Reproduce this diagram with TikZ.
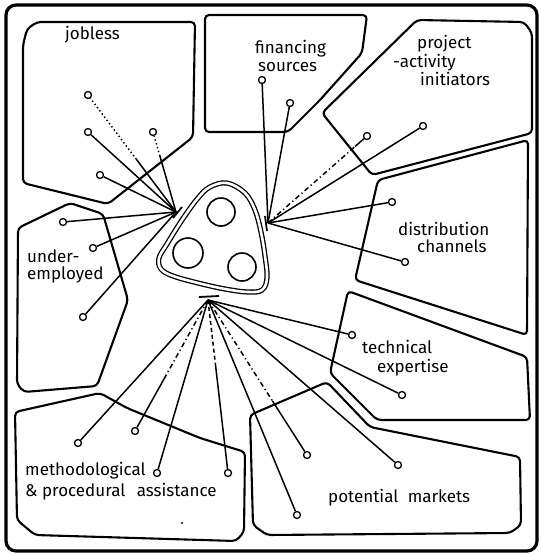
\documentclass[tikz,border=0pt]{standalone}
\usepackage{fontspec}
\setmainfont{Fira Sans}
\usetikzlibrary{calc}
\begin{document}
\begin{tikzpicture}[x=1pt,y=-1pt,
  region/.style={draw, line width=2.1pt, rounded corners=4pt, line join=round},
  link/.style={line width=1.5pt},
  endpt/.style={circle, draw, line width=1.3pt, inner sep=0pt, minimum size=7pt, fill=white},
  lbl/.style={anchor=base west, inner sep=0pt, font=\fontsize{17}{19}\selectfont},
  dashdot/.style={dash pattern=on 5pt off 3pt on 1.2pt off 3pt},
  dotline/.style={dash pattern=on 1.4pt off 2.6pt},
  dashline/.style={dash pattern=on 4pt off 3pt},
  bar/.style={line width=1.8pt},
]
\useasboundingbox (0,0) rectangle (541,555);
% outer frame
\draw[line width=3.2pt, rounded corners=10pt] (6,5) rectangle (537,551);
% regions
\draw[region] (23,183) -- (108,204) -- (193,137) -- (195,22) -- (37,22) -- (27,29) -- (23,45) -- cycle;
\draw[region] (205,15) -- (205,132) -- (288,132) -- (320,100) -- (362,53) -- (367,15) -- cycle;
\draw[region] (322,113) -- (417,20) -- (524,22) -- (532,33) -- (532,133) -- (372,175) -- cycle;
\draw[region] (378,180) -- (528,140) -- (527,335) -- (355,280) -- cycle;
\draw[region] (348,291) -- (527,357) -- (530,420) -- (377,420) -- (330,373) -- cycle;
\draw[region] (250,415) -- (327,382) -- (370,427) -- (520,457) -- (521,525) -- (510,533) -- (267,535) -- (253,525) -- cycle;
\draw[region] (15,412) -- (100,393) -- (127,408) -- (200,438) -- (245,452) -- (244,532) -- (236,541) -- (35,535) -- (17,520) -- cycle;
\draw[region] (18,228) -- (70,203) -- (103,214) -- (128,300) -- (97,386) -- (24,392) -- (17,384) -- cycle;
% labels
\node[lbl] (tjob) at (65,39) {jobless};
\node[lbl] (tfin1) at (255,53) {financing};
\node[lbl] (tfin2) at (258,71) {sources};
\node[lbl] (tpro1) at (417,48) {project};
\node[lbl] (tpro2) at (393,67) {-activity};
\node[lbl] (tpro3) at (420,85) {initiators};
\node[lbl] (tdis1) at (398,235) {distribution};
\node[lbl] (tdis2) at (417,252) {channels};
\node[lbl] (ttec1) at (362,353) {technical};
\node[lbl] (ttec2) at (377,372) {expertise};
\node[lbl] (tpot) at (328,502) {potential\hspace{5pt} markets};
\node[lbl] (tmet1) at (25,475) {methodological};
\node[lbl] (tmet2) at (25,496) {\& procedural\hspace{7pt} assistance};
\node[lbl] (tund1) at (27,262) {under-};
\node[lbl] (tund2) at (27,279) {employed};
% centre
\draw[line width=1.3pt, double, double distance=2.6pt] plot[smooth cycle, tension=0.6] coordinates {
 (227,183) (245,193) (255,210) (261,232) (265,256) (267,278) (262,290) (248,292) (225,289) (198,283) (173,276) (161,269) (159,258) (167,244) (182,220) (198,198) (210,187)};
\draw[line width=1.6pt] (221,212) circle[radius=14pt];
\draw[line width=1.6pt] (188,253) circle[radius=15pt];
\draw[line width=1.6pt] (242,267) circle[radius=14pt];
\draw[bar] (173,218) -- (182,207);
\draw[bar] (265,216) -- (267,231);
\draw[bar] (199,297) -- (219,296);
\coordinate (L) at (176,212);
\coordinate (R) at (268,223);
\coordinate (B) at (208,300);
% endpoints
\node[endpt] (a1) at (88,95) {};
\node[endpt] (a2) at (88,132) {};
\node[endpt] (a3) at (153,132) {};
\node[endpt] (a4) at (100,175) {};
\node[endpt] (a5) at (63,222) {};
\node[endpt] (a6) at (93,248) {};
\node[endpt] (a7) at (83,317) {};
\node[endpt] (b1) at (262,80) {};
\node[endpt] (b2) at (290,103) {};
\node[endpt] (b3) at (367,136) {};
\node[endpt] (b4) at (423,126) {};
\node[endpt] (b5) at (392,202) {};
\node[endpt] (b6) at (405,262) {};
\node[endpt] (c1) at (78,443) {};
\node[endpt] (c2) at (135,431) {};
\node[endpt] (c3) at (157,473) {};
\node[endpt] (c4) at (228,473) {};
\node[endpt] (c5) at (297,515) {};
\node[endpt] (c6) at (307,455) {};
\node[endpt] (c7) at (352,335) {};
\node[endpt] (c8) at (402,395) {};
\node[endpt] (c9) at (398,465) {};
% connectors
\coordinate (a1m) at ($(L)!0.45!(a1)$);
\coordinate (a3m) at ($(L)!0.7!(a3)$);
\draw[link] (L) -- (a1m);
\draw[link, dotline] (a1m) -- (a1);
\draw[link] (L) -- (a2);
\draw[link] (L) -- (a3m);
\draw[link, dotline] (a3m) -- (a3);
\draw[link] (L) -- (a4);
\draw[link] (L) -- (a5);
\draw[link] (L) -- (a6);
\draw[link] (L) -- (a7);
\coordinate (b3m) at ($(R)!0.88!(b3)$);
\draw[link] (R) -- (b1);
\draw[link] (R) -- (b2);
\draw[link, dashdot] (R) -- (b3m);
\draw[link] (b3m) -- (b3);
\draw[link] (R) -- (b4);
\draw[link] (R) -- (b5);
\draw[link] (R) -- (b6);
\coordinate (c2m) at ($(B)!0.6!(c2)$);
\coordinate (c4m) at ($(B)!0.38!(c4)$);
\coordinate (c6m) at ($(B)!0.65!(c6)$);
\draw[link] (B) -- (c1);
\draw[link, dashdot] (B) -- (c2m);
\draw[link] (c2m) -- (c2);
\draw[link] (B) -- (c3);
\draw[link, dashline] (B) -- (c4m);
\draw[link] (c4m) -- (c4);
\draw[link] (B) -- (c5);
\draw[link, dashdot] (B) -- (c6m);
\draw[link] (c6m) -- (c6);
\draw[link] (B) -- (c7);
\draw[link] (B) -- (c8);
\draw[link] (B) -- (c9);
\fill (182,523) circle[radius=1.2pt];
\end{tikzpicture}
\end{document}
